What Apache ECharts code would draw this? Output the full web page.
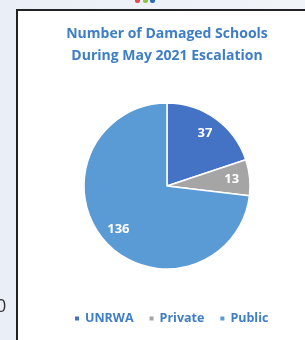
<!DOCTYPE html>
<html><head><meta charset="utf-8">
<script src="https://cdn.jsdelivr.net/npm/echarts@6/dist/echarts.min.js"></script>
<style>html,body{margin:0;padding:0;background:#fff;}#c{width:305px;height:340px;}</style>
</head><body><div id="c"></div>
<script>
const categories = ['UNRWA', 'Private', 'Public'];
const values = [37, 13, 136];
const colors = ['#4472C4', '#A5A5A5', '#5B9BD5'];
const titleLines = ['Number of Damaged Schools', 'During May 2021 Escalation'];

const chart = echarts.init(document.getElementById('c'), null, {renderer: 'canvas'});
const data = categories.map((n, i) => ({name: n, value: values[i], itemStyle: {color: colors[i]}}));
const FONT = 'Open Sans';
chart.setOption({
  animation: false,
  backgroundColor: {type: 'linear', x: 0, y: 0, x2: 1, y2: 0, colorStops: [{offset: 0, color: '#eaeff7'}, {offset: 1, color: '#f1f4f9'}]},
  graphic: [
    {type: 'rect', shape: {x: 17, y: 10, width: 300, height: 340}, style: {fill: '#fff', stroke: '#222', lineWidth: 2}, z: -1},
    {type: 'text', left: -4, top: 298, style: {text: '0', font: '18px "Open Sans"', fill: '#333'}, z: -1},
    {type: 'rect', shape: {x: 135, y: -3, width: 5, height: 6, r: 2}, style: {fill: '#e8474f'}, z: -1},
    {type: 'rect', shape: {x: 143, y: -3, width: 5, height: 6, r: 2}, style: {fill: '#8cc63f'}, z: -1},
    {type: 'rect', shape: {x: 150, y: -3, width: 5, height: 6, r: 2}, style: {fill: '#2e6db4'}, z: -1}
  ],
  title: {
    text: titleLines.join('\n'),
    left: 162, top: 18, textAlign: 'center',
    textStyle: {fontFamily: FONT, fontSize: 14, fontWeight: 'bold', color: '#3E7EC6', lineHeight: 22}
  },
  legend: {
    data: categories,
    top: 307, left: 68,
    itemWidth: 6, itemHeight: 6, itemGap: 14, icon: 'rect',
    textStyle: {fontFamily: FONT, fontSize: 12.5, fontWeight: 'bold', color: '#3E7EC6'}
  },
  series: [
    {
      type: 'pie', center: [167, 186], radius: 83, startAngle: 90, clockwise: true,
      data: data,
      itemStyle: {borderColor: '#fff', borderWidth: 1.5},
      label: {show: false}, labelLine: {show: false}, silent: true
    },
    {
      type: 'pie', center: [167, 186], radius: [41, 83], startAngle: 90, clockwise: true,
      data: data.map(d => ({name: d.name, value: d.value})),
      itemStyle: {color: 'rgba(0,0,0,0)'},
      label: {show: true, position: 'inside', formatter: '{c}', color: '#fff', fontFamily: FONT, fontSize: 13, fontWeight: 'bold'},
      labelLine: {show: false}, silent: true, legendHoverLink: false
    }
  ]
});
</script></body></html>
